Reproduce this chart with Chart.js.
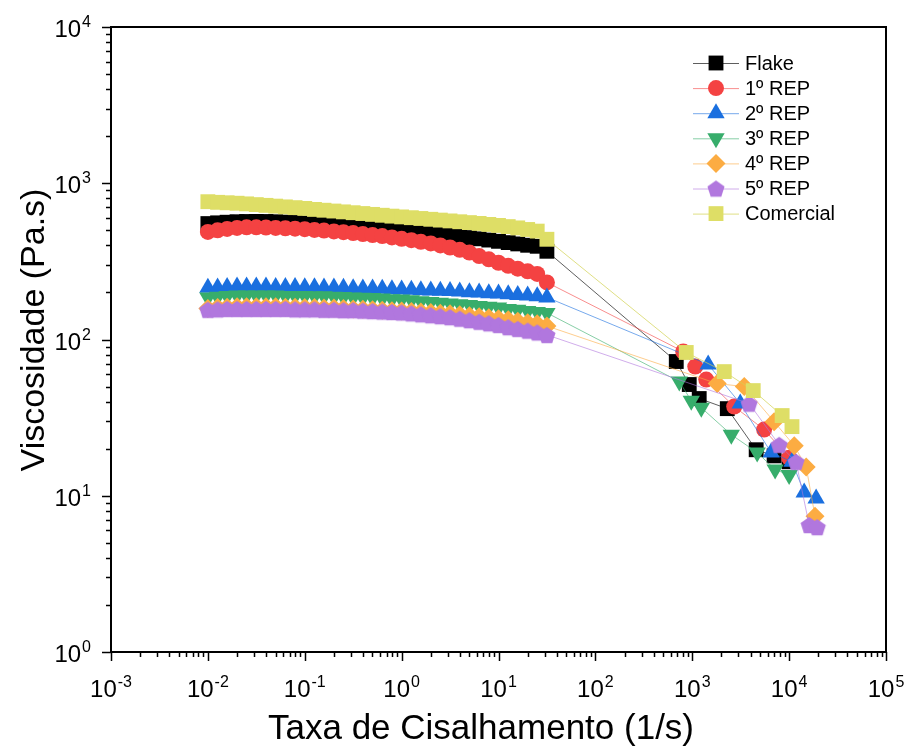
<!DOCTYPE html>
<html>
<head>
<meta charset="utf-8">
<script src="https://cdn.jsdelivr.net/npm/chart.js@4/dist/chart.umd.min.js"></script>
<style>
body { margin: 0; background: #fff; }
</style>
</head>
<body>
<canvas id="viscChart" width="909" height="749"></canvas>
<script>
// low shear sweep (shared by all samples), 1/s
var shearLow = [0.01, 0.0126, 0.0158, 0.02, 0.0251, 0.0316, 0.0398, 0.0501, 0.0631, 0.0794,
	0.1, 0.126, 0.158, 0.2, 0.251, 0.316, 0.398, 0.501, 0.631, 0.794,
	1, 1.26, 1.58, 2, 2.51, 3.16, 3.98, 5.01, 6.31, 7.94,
	10, 12.6, 15.8, 20, 25.1, 31.6];

// viscosity at low shear, Pa.s
var flakeLow = [552, 558, 563, 567, 569, 570, 569, 567, 564, 561, 557, 553, 548, 543, 538, 533, 527, 521, 515, 509,
	502, 495, 488, 481, 473, 465, 457, 449, 441, 433, 425, 417, 409, 401, 395, 367];
var rep1Low = [488, 500, 510, 518, 522, 522, 520, 518, 515, 512, 508, 503, 498, 492, 486, 480, 473, 466, 459, 450,
	441, 432, 422, 412, 400, 388, 375, 360, 342, 326, 310, 296, 284, 273, 263, 232];
var rep2Low = [214, 215, 217, 218, 218, 218, 218, 217, 217, 217, 216, 216, 215, 215, 214, 213, 212, 212, 211, 210,
	209, 208, 207, 206, 205, 204, 203, 201, 200, 198, 197, 195, 193, 191, 189, 186];
var rep3Low = [186, 188, 190, 191, 191, 191, 191, 191, 190, 190, 190, 189, 189, 188, 187, 186, 185, 184, 183, 181,
	180, 178, 176, 174, 172, 170, 168, 166, 164, 162, 160, 157, 155, 152, 150, 148];
var rep4Low = [158, 160, 161, 162, 162, 162, 162, 162, 161, 161, 160, 160, 159, 159, 158, 157, 156, 155, 154, 153,
	152, 151, 150, 149, 147, 146, 144, 142, 140, 138, 136, 134, 131, 128, 126, 122];
var rep5Low = [155, 156, 157, 157, 157, 157, 157, 157, 157, 156, 156, 156, 155, 155, 154, 154, 153, 152, 151, 150,
	149, 147, 145, 143, 141, 139, 136, 133, 130, 127, 124, 120, 117, 114, 111, 107];
var comLow = [762, 755, 750, 745, 738, 730, 722, 714, 706, 698, 690, 680, 672, 664, 656, 648, 640, 632, 624, 616,
	609, 602, 595, 588, 581, 574, 567, 560, 553, 545, 537, 528, 518, 506, 494, 438];

// high shear (capillary) points, rate in 1/s and viscosity in Pa.s
var flakeHighRate = [684, 931, 1180, 2300, 4570, 7000, 10000];
var flakeHigh = [72.3, 51.5, 41.9, 36.1, 19.7, 18.0, 16.5];
var rep1HighRate = [807, 1075, 1395, 2710, 5520, 10000];
var rep1High = [83.8, 67.1, 55.4, 37.2, 26.5, 17.5];
var rep2HighRate = [1460, 3130, 6520, 10700, 14300, 19000];
var rep2High = [69.2, 38.9, 18.9, 16.5, 10.5, 9.6];
var rep3HighRate = [735, 977, 1240, 2530, 4680, 7170, 10000];
var rep3High = [53.8, 40.6, 36.6, 24.6, 18.9, 14.7, 13.6];
var rep4HighRate = [1810, 3440, 7000, 11300, 15000, 18500];
var rep4High = [52.2, 50.0, 29.8, 20.9, 15.3, 7.4];
var rep5HighRate = [3870, 7890, 11800, 16100, 19500];
var rep5High = [38.9, 21.2, 16.5, 6.5, 6.3];
var comHighRate = [867, 2140, 4260, 8470, 10700];
var comHigh = [82.6, 62.3, 47.1, 32.6, 27.7];

var xDecades = [-3, -2, -1, 0, 1, 2, 3, 4, 5];
var yDecades = [0, 1, 2, 3, 4];

var FONT = '"Liberation Sans", Arial, sans-serif';

function toPoints(lowY, highX, highY) {
	var pts = [];
	for (var i = 0; i < shearLow.length; i++) pts.push({ x: shearLow[i], y: lowY[i] });
	for (var j = 0; j < highX.length; j++) pts.push({ x: highX[j], y: highY[j] });
	return pts;
}

// pentagon marker for 5º REP
function pentagon(color, r) {
	var c = document.createElement("canvas");
	c.width = 2 * r + 2;
	c.height = 2 * r + 2;
	var g = c.getContext("2d");
	g.fillStyle = color;
	g.beginPath();
	for (var k = 0; k < 5; k++) {
		var a = -Math.PI / 2 + k * 2 * Math.PI / 5;
		var px = r + 1 + r * Math.cos(a);
		var py = r + 1 + r * Math.sin(a) + r * 0.1;
		if (k === 0) g.moveTo(px, py); else g.lineTo(px, py);
	}
	g.closePath();
	g.fill();
	return c;
}

function series(label, data, color, line, style, radius, rotation, order) {
	return {
		label: label,
		data: data,
		showLine: true,
		borderColor: line,
		borderWidth: 1,
		backgroundColor: color,
		pointBackgroundColor: color,
		pointBorderColor: color,
		pointBorderWidth: 0,
		pointStyle: style,
		pointRadius: radius,
		pointHoverRadius: radius,
		pointRotation: rotation,
		order: order
	};
}

var datasets = [
	series("Flake", toPoints(flakeLow, flakeHighRate, flakeHigh), "#000000", "rgba(40,40,40,0.75)", "rect", 10.5, 0, 7),
	series("1º REP", toPoints(rep1Low, rep1HighRate, rep1High), "#f44242", "rgba(244,66,66,0.6)", "circle", 8, 0, 6),
	series("2º REP", toPoints(rep2Low, rep2HighRate, rep2High), "#1a6fdf", "rgba(26,111,223,0.6)", "triangle", 10, 0, 5),
	series("3º REP", toPoints(rep3Low, rep3HighRate, rep3High), "#37ad6b", "rgba(55,173,107,0.6)", "triangle", 10, 180, 4),
	series("4º REP", toPoints(rep4Low, rep4HighRate, rep4High), "#fcac42", "rgba(252,172,66,0.6)", "rectRot", 9.5, 0, 3),
	series("5º REP", toPoints(rep5Low, rep5HighRate, rep5High), "#b177de", "rgba(177,119,222,0.6)", pentagon("#b177de", 9), 9, 0, 2),
	series("Comercial", toPoints(comLow, comHighRate, comHigh), "#dede66", "rgba(210,210,80,0.7)", "rect", 10.5, 0, 1)
];

function drawPower(ctx, exp, x, baseline, align) {
	ctx.font = "24px " + FONT;
	var wBase = ctx.measureText("10").width;
	ctx.font = "16px " + FONT;
	var wExp = ctx.measureText(exp).width;
	var total = wBase + 1 + wExp;
	var left = align === "right" ? x - total : x - total / 2;
	ctx.textAlign = "left";
	ctx.textBaseline = "alphabetic";
	ctx.fillStyle = "#000";
	ctx.font = "24px " + FONT;
	ctx.fillText("10", left, baseline);
	ctx.font = "16px " + FONT;
	ctx.fillText(exp, left + wBase + 1, baseline - 10);
}

// frame, ticks, tick labels, titles and legend
var decor = {
	id: "decor",
	afterDraw: function (chart) {
		var ctx = chart.ctx;
		var a = chart.chartArea;
		var xs = chart.scales.x;
		var ys = chart.scales.y;
		ctx.save();
		ctx.strokeStyle = "#000";
		ctx.lineWidth = 2;
		ctx.strokeRect(a.left, a.top, a.right - a.left, a.bottom - a.top);

		ctx.lineWidth = 1.5;
		ctx.beginPath();
		xDecades.forEach(function (d) {
			var base = Math.pow(10, d);
			var px = Math.round(xs.getPixelForValue(base)) + 0.5;
			ctx.moveTo(px, a.bottom);
			ctx.lineTo(px, a.bottom + 9);
			if (d < 5) {
				for (var m = 2; m < 10; m++) {
					var mx = Math.round(xs.getPixelForValue(m * base)) + 0.5;
					ctx.moveTo(mx, a.bottom);
					ctx.lineTo(mx, a.bottom + 5);
				}
			}
		});
		yDecades.forEach(function (d) {
			var base = Math.pow(10, d);
			var py = Math.round(ys.getPixelForValue(base)) + 0.5;
			ctx.moveTo(a.left, py);
			ctx.lineTo(a.left - 9, py);
			if (d < 4) {
				for (var m = 2; m < 10; m++) {
					var my = Math.round(ys.getPixelForValue(m * base)) + 0.5;
					ctx.moveTo(a.left, my);
					ctx.lineTo(a.left - 5, my);
				}
			}
		});
		ctx.stroke();

		xDecades.forEach(function (d) {
			drawPower(ctx, String(d), xs.getPixelForValue(Math.pow(10, d)), a.bottom + 45, "center");
		});
		yDecades.forEach(function (d) {
			drawPower(ctx, String(d), a.left - 20, ys.getPixelForValue(Math.pow(10, d)) + 10, "right");
		});

		ctx.fillStyle = "#000";
		ctx.font = "35px " + FONT;
		ctx.textAlign = "center";
		ctx.textBaseline = "alphabetic";
		ctx.fillText("Taxa de Cisalhamento (1/s)", 481, 739);
		ctx.font = "34px " + FONT;
		ctx.save();
		ctx.translate(44, 330);
		ctx.rotate(-Math.PI / 2);
		ctx.fillText("Viscosidade (Pa.s)", 0, 0);
		ctx.restore();

		// legend: line + marker + label
		chart.data.datasets.forEach(function (ds, i) {
			var y = 63 + i * 25.1;
			ctx.strokeStyle = ds.borderColor;
			ctx.lineWidth = 1;
			ctx.beginPath();
			ctx.moveTo(693, y + 0.5);
			ctx.lineTo(739, y + 0.5);
			ctx.stroke();
			ctx.fillStyle = ds.pointBackgroundColor;
			Chart.helpers.drawPoint(ctx, {
				pointStyle: ds.pointStyle,
				rotation: ds.pointRotation,
				radius: ds.pointRadius,
				borderWidth: 0
			}, 716, y);
			ctx.fillStyle = "#000";
			ctx.font = "20px " + FONT;
			ctx.textAlign = "left";
			ctx.textBaseline = "middle";
			ctx.fillText(ds.label, 745, y + 1);
		});
		ctx.restore();
	}
};

var viscChart = new Chart(document.getElementById("viscChart"), {
	type: "scatter",
	data: { datasets: datasets },
	options: {
		responsive: false,
		animation: false,
		devicePixelRatio: 1,
		layout: { padding: { left: 0, top: 27, right: 23, bottom: 0 } },
		plugins: { legend: { display: false }, tooltip: { enabled: false } },
		scales: {
			x: {
				type: "logarithmic",
				min: 0.001,
				max: 100000,
				grid: { display: false },
				border: { display: false },
				ticks: { display: false },
				afterFit: function (scale) { scale.height = 97; }
			},
			y: {
				type: "logarithmic",
				min: 1,
				max: 10000,
				grid: { display: false },
				border: { display: false },
				ticks: { display: false },
				afterFit: function (scale) { scale.width = 111; }
			}
		}
	},
	plugins: [decor]
});
</script>
</body>
</html>
